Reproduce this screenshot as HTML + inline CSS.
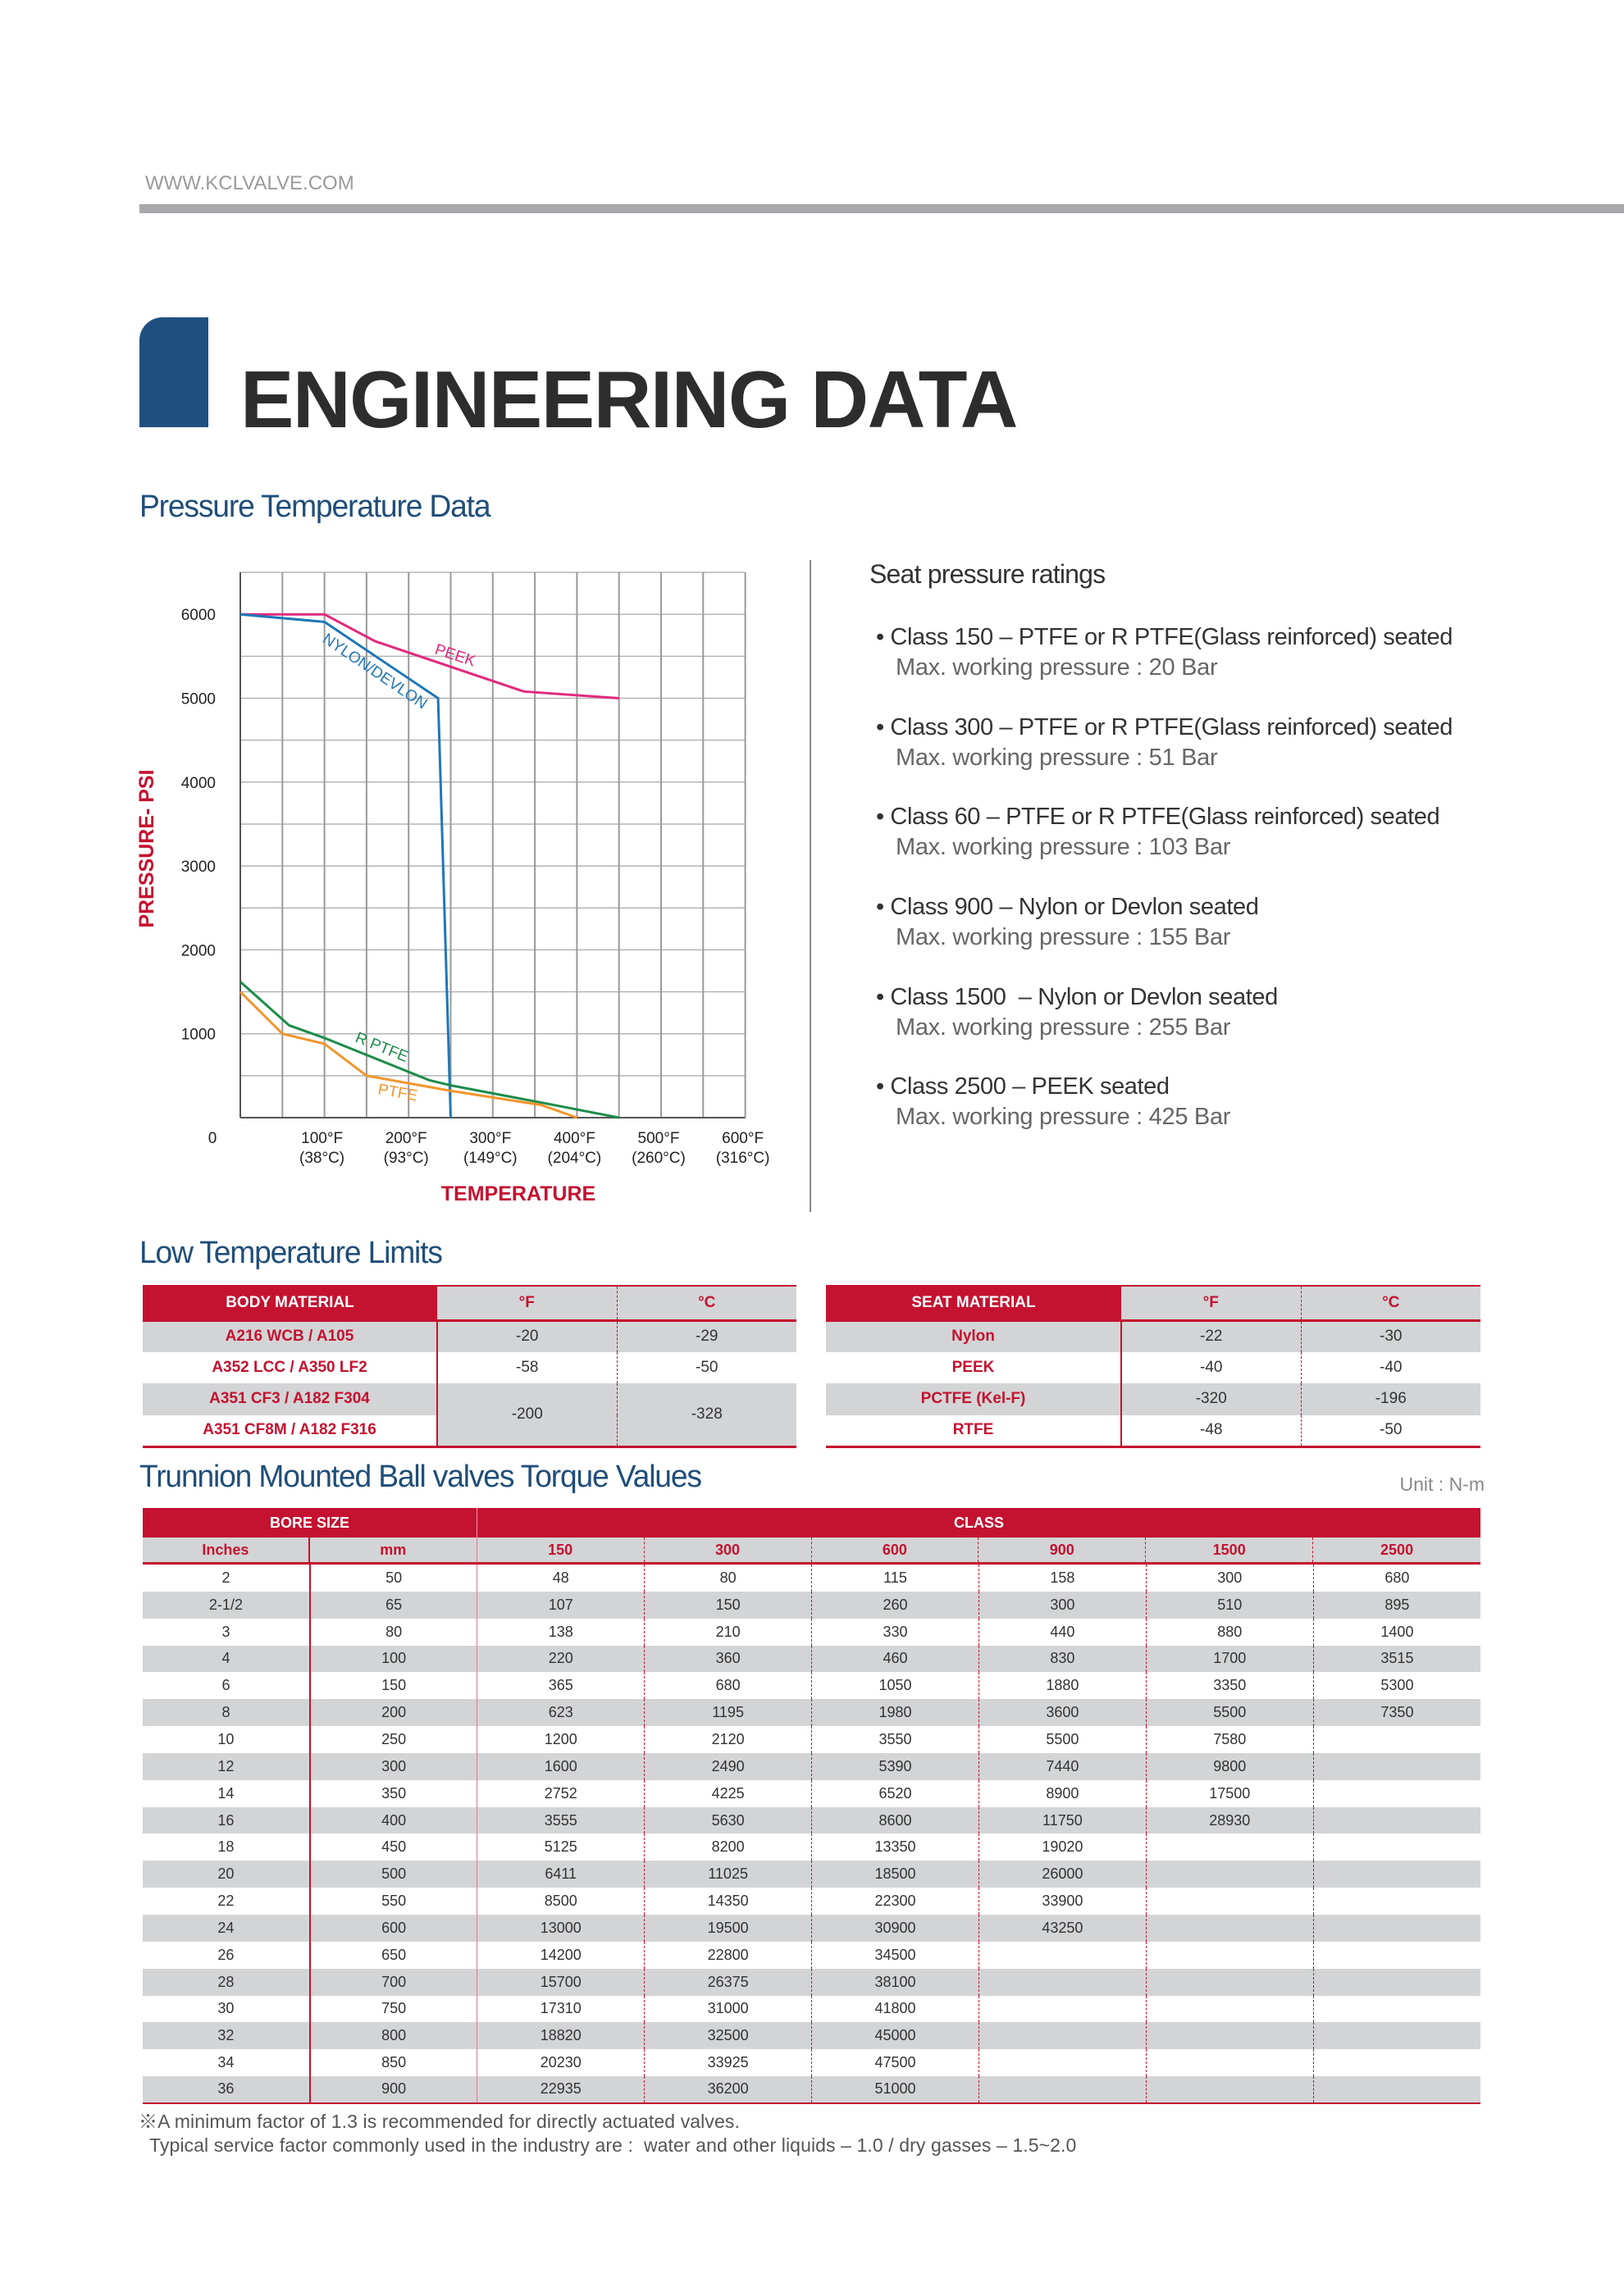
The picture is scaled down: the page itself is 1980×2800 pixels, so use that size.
<!DOCTYPE html>
<html><head><meta charset="utf-8">
<style>
*{margin:0;padding:0;box-sizing:border-box}
body{width:1980px;height:2800px;background:#fff;position:relative;font-family:"Liberation Sans","Noto Sans CJK KR",sans-serif;overflow:hidden}
.abs{position:absolute}
.h2{position:absolute;left:170px;color:#1f4e79;font-size:38px;letter-spacing:-1.2px;white-space:nowrap;transform-origin:left center;transform:scaleX(0.98)}
.item{position:absolute;left:1068px;white-space:nowrap}
.item .l1{font-size:29px;color:#333;height:37px;line-height:37px;letter-spacing:-0.4px}
.item .l2{font-size:29px;color:#666;height:37px;line-height:37px;padding-left:24px;letter-spacing:-0.3px}
table{border-collapse:collapse;table-layout:fixed;position:absolute}
td,th{text-align:center;vertical-align:middle;padding:0;white-space:nowrap}
.lt th{height:42px;font-size:19px;border-top:2px solid #c41230;border-bottom:3px solid #c41230}
.lt th.r{background:#c41230;color:#fff;font-weight:bold}
.lt th.g{background:#d3d4d6;color:#c41230;font-weight:bold}
.lt td{height:38.5px;font-size:19px;color:#333}
.lt td.m{color:#c41230;font-weight:bold;border-right:2px solid #c41230}
.lt td.f{border-right:1px dashed #c41230}
.lt tr.gr td{background:#d3d4d6}
.lt tr.last td{border-bottom:3px solid #c41230}
.tq td{height:32.85px;font-size:18px;color:#333}
.tq tr:nth-child(odd) td{background:#d3d4d6}
.tq td.c1{border-right:2px solid #c41230}
.tq td.c2{border-right:1px solid #e07890}
.tq td.cd{border-right:1px dashed #c41230}
</style></head><body>
<div class="abs" style="left:177px;top:210px;font-size:24px;color:#9a9a9a;letter-spacing:0px">WWW.KCLVALVE.COM</div>
<div class="abs" style="left:170px;top:249px;width:1810px;height:11px;background:#a7a8ab"></div>
<div class="abs" style="left:170px;top:387px;width:84px;height:134px;background:#1f5080;border-top-left-radius:28px"></div>
<div class="abs" style="left:293px;top:437px;font-size:98px;font-weight:bold;color:#2e2d2e;letter-spacing:-1.5px;white-space:nowrap;line-height:100px">ENGINEERING DATA</div>

<div class="h2" style="top:597px">Pressure Temperature Data</div>

<svg id="chart" class="abs" style="left:0;top:0" width="1980" height="1500"></svg>

<div class="abs" style="left:987px;top:683px;width:2px;height:795px;background:#888"></div>

<div class="abs" style="left:1060px;top:682px;font-size:32px;color:#333;letter-spacing:-0.8px">Seat pressure ratings</div>
<div class="item" style="top:759px"><div class="l1">• Class 150 – PTFE or R PTFE(Glass reinforced) seated</div><div class="l2">Max. working pressure : 20 Bar</div></div>
<div class="item" style="top:869px"><div class="l1">• Class 300 – PTFE or R PTFE(Glass reinforced) seated</div><div class="l2">Max. working pressure : 51 Bar</div></div>
<div class="item" style="top:978px"><div class="l1">• Class 60 – PTFE or R PTFE(Glass reinforced) seated</div><div class="l2">Max. working pressure : 103 Bar</div></div>
<div class="item" style="top:1088px"><div class="l1">• Class 900 – Nylon or Devlon seated</div><div class="l2">Max. working pressure : 155 Bar</div></div>
<div class="item" style="top:1198px"><div class="l1">• Class 1500 &nbsp;– Nylon or Devlon seated</div><div class="l2">Max. working pressure : 255 Bar</div></div>
<div class="item" style="top:1307px"><div class="l1">• Class 2500 – PEEK seated</div><div class="l2">Max. working pressure : 425 Bar</div></div>

<div class="h2" style="top:1507px">Low Temperature Limits</div>

<table class="lt" style="left:174px;top:1567px;width:797px">
<colgroup><col style="width:359px"><col style="width:219px"><col style="width:219px"></colgroup>
<tr><th class="r">BODY MATERIAL</th><th class="g" style="border-right:1px dashed #c41230">°F</th><th class="g">°C</th></tr>
<tr class="gr"><td class="m">A216 WCB / A105</td><td class="f">-20</td><td>-29</td></tr>
<tr><td class="m">A352 LCC / A350 LF2</td><td class="f">-58</td><td>-50</td></tr>
<tr><td class="m" style="background:#d3d4d6">A351 CF3 / A182 F304</td><td class="f" rowspan="2" style="background:#d3d4d6;border-bottom:3px solid #c41230">-200</td><td rowspan="2" style="background:#d3d4d6;border-bottom:3px solid #c41230">-328</td></tr>
<tr class="last"><td class="m">A351 CF8M / A182 F316</td></tr>
</table>

<table class="lt" style="left:1007px;top:1567px;width:798px">
<colgroup><col style="width:360px"><col style="width:219px"><col style="width:219px"></colgroup>
<tr><th class="r">SEAT MATERIAL</th><th class="g" style="border-right:1px dashed #c41230">°F</th><th class="g">°C</th></tr>
<tr class="gr"><td class="m">Nylon</td><td class="f">-22</td><td>-30</td></tr>
<tr><td class="m">PEEK</td><td class="f">-40</td><td>-40</td></tr>
<tr class="gr"><td class="m">PCTFE (Kel-F)</td><td class="f">-320</td><td>-196</td></tr>
<tr class="last"><td class="m">RTFE</td><td class="f">-48</td><td>-50</td></tr>
</table>

<div class="h2" style="top:1780px">Trunnion Mounted Ball valves Torque Values</div>
<div class="abs" style="right:170px;top:1797px;font-size:23px;color:#888">Unit : N-m</div>

<div class="abs" style="left:174px;top:1839px;width:408px;height:36px;background:#c41230;color:#fff;font-weight:bold;font-size:18px;line-height:36px;text-align:center;border-right:1px solid #e8a0b0">BORE SIZE</div>
<div class="abs" style="left:582px;top:1839px;width:1223px;height:36px;background:#c41230;color:#fff;font-weight:bold;font-size:18px;line-height:36px;text-align:center">CLASS</div>
<div id="subhdr" class="abs" style="left:174px;top:1875px;width:1631px;height:33px;background:#d3d4d6;border-bottom:3px solid #c41230;display:flex"></div>
<table class="tq" id="tq" style="left:174px;top:1908px;width:1631px;border-bottom:2px solid #c41230"></table>

<div class="abs" style="left:169px;top:2573px;font-size:23px;color:#555;line-height:29px;white-space:nowrap;letter-spacing:0.1px">※A minimum factor of 1.3 is recommended for directly actuated valves.<br>&nbsp;&nbsp;Typical service factor commonly used in the industry are :&nbsp; water and other liquids – 1.0 / dry gasses – 1.5~2.0</div>

<script>
// ---- chart data ----
const xTicksF = [100,200,300,400,500,600];
const xTicksC = ["(38°C)","(93°C)","(149°C)","(204°C)","(260°C)","(316°C)"];
const yTicks = [1000,2000,3000,4000,5000,6000];
const peekT = [0,100,160,337,450];
const peekP = [6000,6000,5680,5080,5000];
const nylonT = [0,100,235,250];
const nylonP = [6000,5910,5000,0];
const rptfeT = [0,58,100,225,250,355,450];
const rptfeP = [1620,1100,950,445,385,185,0];
const ptfeT = [0,50,100,150,250,358,400];
const ptfeP = [1500,1000,880,500,320,150,0];

const NS="http://www.w3.org/2000/svg";
const svg=document.getElementById('chart');
const X0=293, XW=615.6, Y0=1363, PH=613.8/6000;
function xs(f){return X0+f/600*XW;}
function ys(p){return Y0-p*PH;}
function mk(tag,attrs,name){const e=document.createElementNS(NS,tag);for(const k in attrs)e.setAttribute(k,attrs[k]);


svg.appendChild(e);return e;}
for(let p=500;p<=6500;p+=500){mk('line',{x1:X0,x2:X0+XW,y1:ys(p),y2:ys(p),stroke:'#b5b5b5','stroke-width':1.5},'h-gridline');}
for(let f=50;f<=600;f+=50){mk('line',{x1:xs(f),x2:xs(f),y1:ys(6500),y2:Y0,stroke:'#9a9a9a','stroke-width':2},'v-gridline');}
mk('line',{x1:X0,x2:X0,y1:ys(6500),y2:Y0,stroke:'#555','stroke-width':2},'y-axis');
mk('line',{x1:X0,x2:X0+XW,y1:Y0,y2:Y0,stroke:'#555','stroke-width':2},'x-axis');
yTicks.forEach(v=>{const t=mk('text',{x:263,y:ys(v)+7,'text-anchor':'end','font-size':19,fill:'#222','font-family':'Liberation Sans'},'y-tick-label');t.textContent=v;});
{const t=mk('text',{x:259,y:1394,'text-anchor':'middle','font-size':19,fill:'#222','font-family':'Liberation Sans'},'y-tick-label');t.textContent='0';}
xTicksF.forEach((v,i)=>{const cx=xs(v)-3;
const a=mk('text',{x:cx,y:1394,'text-anchor':'middle','font-size':19,fill:'#222','font-family':'Liberation Sans'},'x-tick-label');a.textContent=v+'°F';
const b=mk('text',{x:cx,y:1418,'text-anchor':'middle','font-size':19,fill:'#222','font-family':'Liberation Sans'},'x-tick-label-celsius');b.textContent=xTicksC[i];});
{const t=mk('text',{x:632,y:1464,'text-anchor':'middle','font-size':25,'font-weight':'bold',fill:'#c41230','font-family':'Liberation Sans'},'x-axis-title');t.textContent='TEMPERATURE';}
{const t=mk('text',{x:0,y:0,'text-anchor':'middle','font-size':25,'font-weight':'bold',fill:'#c41230','font-family':'Liberation Sans',transform:'translate(187,1035) rotate(-90)'},'y-axis-title');t.textContent='PRESSURE- PSI';}
function series(T,P,color,name){mk('polyline',{points:T.map((t,i)=>xs(t)+','+ys(P[i])).join(' '),fill:'none',stroke:color,'stroke-width':3,'stroke-linejoin':'round'},name);}
series(peekT,peekP,'#e02a7c','peek-line');
series(nylonT,nylonP,'#1f77b8','nylon-devlon-line');
series(rptfeT,rptfeP,'#1d8c4a','r-ptfe-line');
series(ptfeT,ptfeP,'#f2952c','ptfe-line');
function lbl(txt,x,y,a,c,name){const t=mk('text',{x:0,y:0,'font-size':19,fill:c,'font-family':'Liberation Sans',transform:`translate(${x},${y}) rotate(${a})`},name);t.textContent=txt;}
lbl('NYLON/DEVLON',392,782,34,'#1f77b8','nylon-devlon-label');
lbl('PEEK',529,797,18,'#e02a7c','peek-label');
lbl('R PTFE',432,1270,22,'#1d8c4a','r-ptfe-label');
lbl('PTFE',460,1334,10,'#f2952c','ptfe-label');

// ---- torque table ----
const classes=["150","300","600","900","1500","2500"];
const inches=["2","2-1/2","3","4","6","8","10","12","14","16","18","20","22","24","26","28","30","32","34","36"];
const mm=["50","65","80","100","150","200","250","300","350","400","450","500","550","600","650","700","750","800","850","900"];
const c150=["48","107","138","220","365","623","1200","1600","2752","3555","5125","6411","8500","13000","14200","15700","17310","18820","20230","22935"];
const c300=["80","150","210","360","680","1195","2120","2490","4225","5630","8200","11025","14350","19500","22800","26375","31000","32500","33925","36200"];
const c600=["115","260","330","460","1050","1980","3550","5390","6520","8600","13350","18500","22300","30900","34500","38100","41800","45000","47500","51000"];
const c900=["158","300","440","830","1880","3600","5500","7440","8900","11750","19020","26000","33900","43250","","","","","",""];
const c1500=["300","510","880","1700","3350","5500","7580","9800","17500","28930","","","","","","","","","",""];
const c2500=["680","895","1400","3515","5300","7350","","","","","","","","","","","","","",""];
const sub=document.getElementById('subhdr');
["Inches","mm"].concat(classes).forEach((h,i)=>{const d=document.createElement('div');


d.textContent=h;d.style.cssText='width:203.9px;height:30px;line-height:30px;text-align:center;color:#c41230;font-weight:bold;font-size:18px;'+(i==0?'border-right:2px solid #c41230;':i==1?'border-right:1px solid #e07890;':i<7?'border-right:1px dashed #c41230;':'');sub.appendChild(d);});
const tq=document.getElementById('tq');
const cg=document.createElement('colgroup');for(let i=0;i<8;i++){const c=document.createElement('col');c.style.width='203.9px';cg.appendChild(c);}tq.appendChild(cg);
const cols=[inches,mm,c150,c300,c600,c900,c1500,c2500];
for(let r=0;r<inches.length;r++){const tr=document.createElement('tr');


cols.forEach((col,i)=>{const td=document.createElement('td');


td.textContent=col[r];td.className=i==0?'c1':i==1?'c2':i<7?'cd':'';tr.appendChild(td);});
tq.appendChild(tr);}
</script>
</body></html>
